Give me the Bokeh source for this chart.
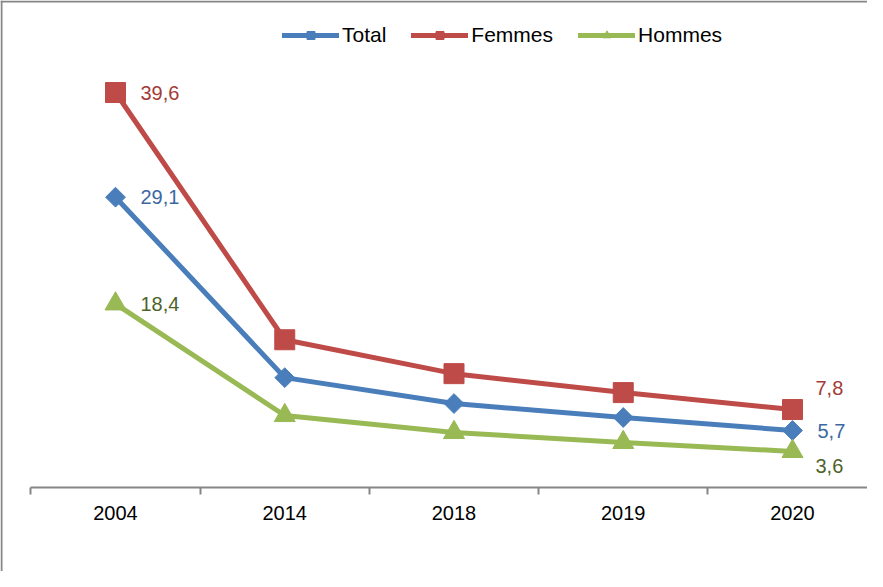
import math
from bokeh.plotting import figure
from bokeh.models import (Range1d, LinearAxis, FixedTicker, Span, Legend,
                          LegendItem, ColumnDataSource)
from bokeh.core.properties import value
from bokeh.embed import file_html
from bokeh.resources import INLINE

# ---- data ----
years = ["2004", "2014", "2018", "2019", "2020"]
total = [29.1, 11.0, 8.4, 7.0, 5.7]
femmes = [39.6, 14.8, 11.4, 9.5, 7.8]
hommes = [18.4, 7.2, 5.5, 4.5, 3.6]
series_names = ["Total", "Femmes", "Hommes"]

# ---- geometry ----
W, H = 867, 571
sx = 169.25          # px per category
x0 = -(115.0) / sx
x1 = x0 + W / sx
sy = 9.969           # px per unit
zero_px = 486.8
y0 = -(H - zero_px) / sy
y1 = zero_px / sy

FONT = "Liberation Sans"
GRAY = "#868686"

p = figure(width=W, height=H, x_range=Range1d(x0, x1), y_range=Range1d(y0, y1),
           output_backend="svg", toolbar_location=None,
           x_axis_location=None, y_axis_location=None, min_border=0)
p.min_border_left = p.min_border_right = p.min_border_top = p.min_border_bottom = 0
p.outline_line_color = None
p.grid.visible = False
p.background_fill_color = "white"
p.border_fill_color = "white"

idx = list(range(len(years)))

# border (left + top)
p.add_layout(Span(location=x0 + 1.0 / sx, dimension="height", line_color=GRAY, line_width=2))
p.add_layout(Span(location=y1 - 1.0 / sy, dimension="width", line_color=GRAY, line_width=2))

# axis with tick marks between categories
tick_axis = LinearAxis(ticker=FixedTicker(ticks=[i - 0.5 for i in range(len(years) + 1)]),
                       fixed_location=0, bounds=(-0.5, len(years) - 0.5),
                       axis_line_color=GRAY, axis_line_width=2,
                       major_tick_line_color=GRAY, major_tick_line_width=2,
                       major_tick_out=7, major_tick_in=0,
                       minor_tick_out=0, minor_tick_in=0,
                       major_label_text_color=None)
label_axis = LinearAxis(ticker=FixedTicker(ticks=idx),
                        major_label_overrides={i: y for i, y in enumerate(years)},
                        fixed_location=0, axis_line_color=None,
                        major_tick_line_color=None, major_tick_out=0, major_tick_in=0,
                        minor_tick_out=0, minor_tick_in=0,
                        major_label_standoff=19,
                        major_label_text_font=FONT, major_label_text_font_size="20px",
                        major_label_text_color="black")
p.add_layout(tick_axis, "below")
p.add_layout(label_axis, "below")

src = ColumnDataSource(dict(x=idx, Total=total, Femmes=femmes, Hommes=hommes))

styles = {
    "Total": dict(color="#4A7EBB", label="#3B68A4", marker="square", angle=math.pi / 4, size=14),
    "Femmes": dict(color="#BE4B48", label="#A33B37", marker="square", angle=0, size=20),
    "Hommes": dict(color="#98B954", label="#4F6228", marker="triangle", angle=0, size=21),
}
last_offsets = {"Total": (25, 1), "Femmes": (23, -22), "Hommes": (23, 15)}

items = []
for name in series_names:
    st = styles[name]
    lr = p.line("x", name, source=src, line_color=st["color"], line_width=5,
                line_join="round", line_cap="round")
    sr = p.scatter("x", name, source=src, marker=st["marker"], angle=st["angle"],
                   size=st["size"], fill_color=st["color"], line_color=st["color"])
    items.append(LegendItem(label=name, renderers=[lr, sr]))
    vals = src.data[name]
    # first value label
    p.text(x=[idx[0]], y=[vals[0]], text=[f"{vals[0]:.1f}".replace(".", ",")],
           x_offset=25, y_offset=0, text_align="left", text_baseline="middle",
           text_font=value(FONT), text_font_size="20px", text_color=st["label"])
    ox, oy = last_offsets[name]
    p.text(x=[idx[-1]], y=[vals[-1]], text=[f"{vals[-1]:.1f}".replace(".", ",")],
           x_offset=ox, y_offset=oy, text_align="left", text_baseline="middle",
           text_font=value(FONT), text_font_size="20px", text_color=st["label"])

legend = Legend(items=items, orientation="horizontal", location=(282, 524),
                glyph_width=57, glyph_height=20, label_standoff=3, spacing=25,
                padding=0, margin=0, border_line_color=None, background_fill_alpha=0,
                label_text_font=FONT, label_text_font_size="21px",
                label_text_color="black", label_height=20)
p.add_layout(legend)

open("out.html", "w").write(file_html(p, INLINE))
